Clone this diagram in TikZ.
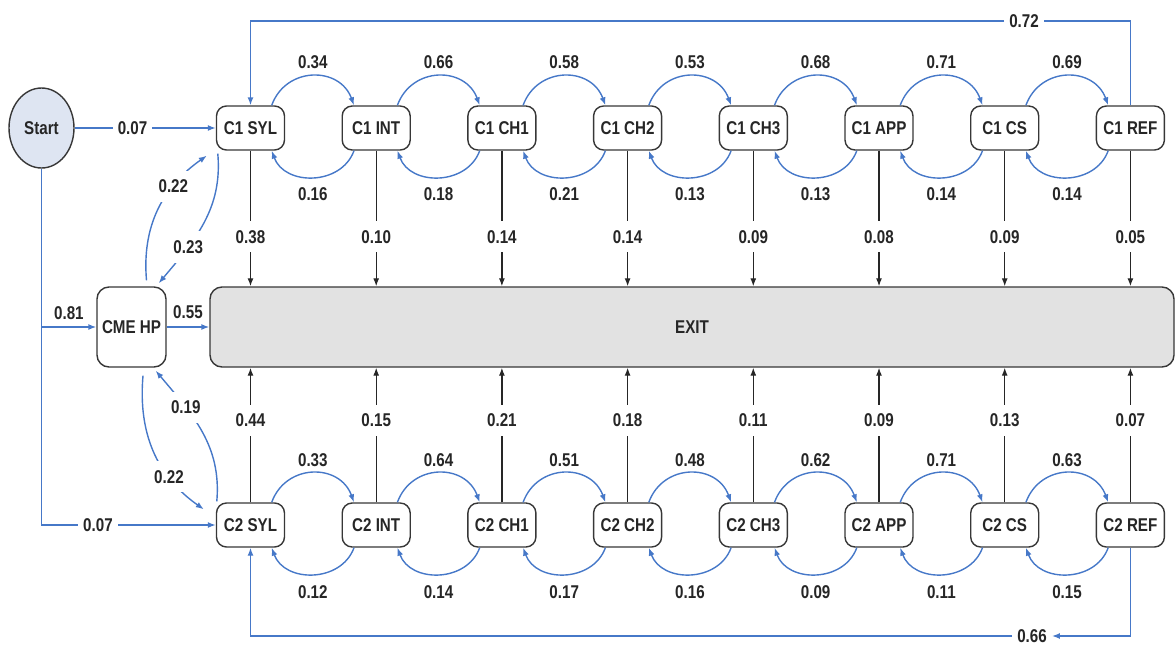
\documentclass[tikz,border=0pt]{standalone}
\usepackage{fontspec}
\newfontfamily\labf{Liberation Sans}[FakeStretch=0.82]
\usetikzlibrary{arrows.meta,calc,shapes.geometric}
\definecolor{myblue}{RGB}{70,120,200}
\definecolor{txt}{RGB}{38,38,38}
\definecolor{edge}{RGB}{55,55,55}
\definecolor{startfill}{RGB}{222,229,242}
\definecolor{exitfill}{RGB}{226,226,226}
\begin{document}
\begin{tikzpicture}[x=1pt,y=1pt,
  font=\labf\bfseries\fontsize{18.5}{20}\selectfont, text=txt,
  cnode/.style={draw=edge, line width=1.4pt, rounded corners=10pt, minimum width=68pt, minimum height=44pt, inner sep=0pt, fill=white},
  lab/.style={inner sep=1pt},
  onl/.style={fill=white, inner xsep=5pt, inner ysep=9pt},
  blline/.style={draw=myblue, line width=1.4pt},
  bl/.style={blline, -{Latex[length=8pt,width=6pt]}},
  bk/.style={draw=black!85, line width=1.2pt, -{Latex[length=8pt,width=6pt]}}]
\useasboundingbox (0,0) rectangle (1175,-646);

% main nodes
\node[ellipse, draw=edge, line width=1.4pt, fill=startfill, minimum width=65pt, minimum height=80pt, inner sep=0pt] (start) at (41.5,-128) {Start};
\node[cnode, rounded corners=12pt, minimum width=69pt, minimum height=80pt] (cme) at (131.5,-327) {CME HP};
\node[draw=edge, line width=1.4pt, fill=exitfill, rounded corners=12pt, minimum width=964pt, minimum height=80pt] (exit) at (692,-327) {EXIT};

\foreach \t [count=\i from 0] in {SYL,INT,CH1,CH2,CH3,APP,CS,REF} {
  \node[cnode] (a\i) at (250.5+125.7*\i,-128) {C1 \t};
  \node[cnode] (b\i) at (250.5+125.7*\i,-525) {C2 \t};
}

% forward / backward arcs, C1 row
\foreach \vf/\vb [count=\i from 0] in {0.34/0.16,0.66/0.18,0.58/0.21,0.53/0.13,0.68/0.13,0.71/0.14,0.69/0.14} {
  \pgfmathtruncatemacro\j{\i+1}
  \draw[bl] ([xshift=-13.5pt]a\i.north east) to[out=70,in=110,looseness=1.3] node[lab,midway,yshift=14pt]{\vf} ([xshift=12.5pt]a\j.north west);
  \draw[bl] ([xshift=12.5pt]a\j.south west) to[out=-110,in=-70,looseness=1.17] node[lab,midway,yshift=-17pt]{\vb} ([xshift=-13.5pt]a\i.south east);
}
% forward / backward arcs, C2 row
\foreach \vf/\vb [count=\i from 0] in {0.33/0.12,0.64/0.14,0.51/0.17,0.48/0.16,0.62/0.09,0.71/0.11,0.63/0.15} {
  \pgfmathtruncatemacro\j{\i+1}
  \draw[bl] ([xshift=-13.5pt]b\i.north east) to[out=70,in=110,looseness=1.3] node[lab,midway,yshift=13pt]{\vf} ([xshift=12.5pt]b\j.north west);
  \draw[bl] ([xshift=12.5pt]b\j.south west) to[out=-110,in=-70,looseness=1.17] node[lab,midway,yshift=-18pt]{\vb} ([xshift=-13.5pt]b\i.south east);
}

% exits
\foreach \u/\d [count=\i from 0] in {0.38/0.44,0.10/0.15,0.14/0.21,0.14/0.18,0.09/0.11,0.08/0.09,0.09/0.13,0.05/0.07} {
  \draw[bk] (a\i.south) -- node[onl,pos=0.635]{\u} (a\i.south |- exit.north);
  \draw[bk] (b\i.north) -- node[onl,pos=0.61]{\d} (b\i.north |- exit.south);
}

% loops back
\node[onl, inner ysep=4pt] (l72) at (1024,-21) {0.72};
\draw[blline] (a7.north) |- (l72.east);
\draw[bl] (l72.west) -| (a0.north);
\node[onl, inner ysep=4pt] (l66) at (1032,-636) {0.66};
\draw[bl] (b7.south) |- (l66.east);
\draw[bl] (l66.west) -| (b0.south);

% start connections
\draw[bl] (start) -- node[onl,pos=0.41]{0.07} (a0);
\draw[bl] (start.south) |- node[onl,pos=0.662]{0.07} (b0.west);
\draw[bl] (start.south |- cme.west) -- node[lab,midway,yshift=14pt]{0.81} (cme.west);
\draw[bl] (cme.east) -- node[lab,midway,yshift=15pt]{0.55} (exit.west);

% CME HP <-> SYL curves
\draw[bl] ([xshift=15pt,yshift=6pt]cme.north) to[out=95,in=-145] node[onl,pos=0.7]{0.22} ([xshift=-9pt,yshift=-5pt]a0.south west);
\draw[bl] ([xshift=2pt,yshift=-3pt]a0.south west) to[out=-85,in=50] node[onl,pos=0.7]{0.23} ([xshift=-8pt,yshift=3pt]cme.north east);
\draw[bl] ([xshift=1pt,yshift=1pt]b0.north west) to[out=85,in=-50] node[onl,pos=0.7]{0.19} ([xshift=-11pt,yshift=-3pt]cme.south east);
\draw[bl] ([xshift=11.5pt,yshift=-8pt]cme.south) to[out=-95,in=145] node[onl,pos=0.7]{0.22} ([xshift=-12pt,yshift=-7pt]b0.north west);
\end{tikzpicture}
\end{document}
